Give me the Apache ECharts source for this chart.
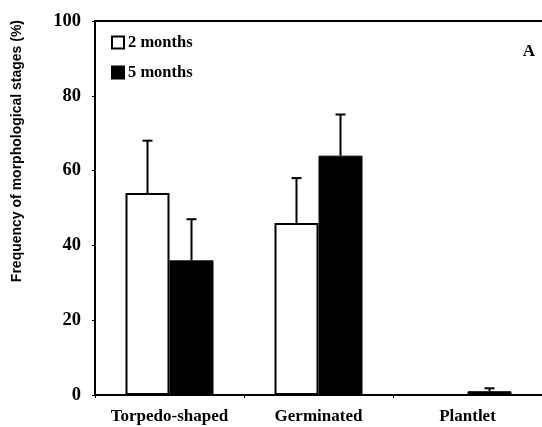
<!DOCTYPE html>
<html>
<head>
<meta charset="utf-8">
<script src="https://cdn.jsdelivr.net/npm/echarts@6/dist/echarts.min.js"></script>
<style>
  html, body { margin: 0; padding: 0; background: #fff; }
  #chart { width: 542px; height: 427px; }
</style>
</head>
<body>
<div id="chart"></div>
<script>
// Morphological stage frequencies after 2 and 5 months
const categories = ['Torpedo-shaped', 'Germinated', 'Plantlet'];
const months2 = [54, 46, 0];
const months2Err = [14, 12, 0];
const months5 = [36, 64, 1];
const months5Err = [11, 11, 0.8];
const yTicks = [0, 20, 40, 60, 80, 100];

const serif = '"Liberation Serif", "Times New Roman", serif';
const sans = '"Liberation Sans", Arial, sans-serif';

// Upward-only error bars with a short cap, drawn over a bar of the given series
function errorSeries(values, errs, offset) {
  return {
    type: 'custom',
    xAxisIndex: 0,
    yAxisIndex: 0,
    z: 5,
    silent: true,
    data: values.map((v, i) => [i, v, v + errs[i]]),
    renderItem: function (params, api) {
      const top = api.coord([api.value(0), api.value(2)]);
      const base = api.coord([api.value(0), api.value(1)]);
      const band = api.size([1, 0])[0];
      const x = top[0] + band * offset;
      if (api.value(2) - api.value(1) <= 0) return null;
      const style = { stroke: '#000', lineWidth: 2 };
      return {
        type: 'group',
        children: [
          { type: 'line', shape: { x1: x, y1: base[1], x2: x, y2: top[1] }, style: style },
          { type: 'line', shape: { x1: x - 5, y1: top[1], x2: x + 5, y2: top[1] }, style: style }
        ]
      };
    }
  };
}

const chart = echarts.init(document.getElementById('chart'), null, { renderer: 'canvas' });
chart.setOption({
  animation: false,
  backgroundColor: '#fff',
  grid: { left: 95, right: 0, top: 21, bottom: 32 },
  legend: {
    orient: 'vertical',
    left: 106,
    top: 29,
    itemGap: 13,
    itemWidth: 12,
    itemHeight: 12,
    icon: 'rect',
    data: ['2 months', '5 months'],
    textStyle: {
      fontFamily: serif, fontWeight: 'bold', fontSize: 16.5, color: '#000',
      padding: [0, 0, 9, -1]
    }
  },
  xAxis: [{
    type: 'category',
    data: categories,
    axisLine: { lineStyle: { color: '#000', width: 2 } },
    axisTick: { show: true, length: 3, lineStyle: { color: '#000', width: 1 } },
    axisLabel: {
      interval: 0,
      color: '#000', fontFamily: serif, fontWeight: 'bold', fontSize: 17, margin: 13
    }
  }, {
    type: 'category',
    position: 'top',
    data: categories,
    axisLine: { lineStyle: { color: '#000', width: 2 } },
    axisTick: { show: false },
    axisLabel: { show: false }
  }],
  yAxis: {
    type: 'value',
    min: yTicks[0],
    max: yTicks[yTicks.length - 1],
    interval: 20,
    splitLine: { show: false },
    axisLine: { show: true, lineStyle: { color: '#000', width: 2 } },
    axisTick: { show: true, length: 3, lineStyle: { color: '#000', width: 1 } },
    axisLabel: {
      color: '#000', fontFamily: serif, fontWeight: 'bold', fontSize: 18.5, margin: 14
    }
  },
  graphic: [{
    type: 'text',
    left: 10,
    top: 20,
    rotation: Math.PI / 2,
    originX: 0,
    originY: 0,
    style: {
      text: 'Frequency of morphological stages (%)',
      font: 'bold 14px ' + sans,
      fill: '#000',
      x: 7,
      y: 153,
      align: 'center',
      verticalAlign: 'middle'
    }
  }, {
    type: 'text',
    right: 7,
    top: 43,
    style: {
      text: 'A',
      font: 'bold 17px ' + serif,
      fill: '#000'
    }
  }],
  series: [{
    name: '2 months',
    type: 'bar',
    data: months2,
    barWidth: 44,
    barGap: '0%',
    itemStyle: { color: '#fff', borderColor: '#000', borderWidth: 2 }
  }, {
    name: '5 months',
    type: 'bar',
    data: months5,
    barWidth: 44,
    barGap: '0%',
    itemStyle: { color: '#000', borderColor: '#000', borderWidth: 1 }
  },
  errorSeries(months2, months2Err, -44 / 149 / 2 * 1),
  errorSeries(months5, months5Err, 44 / 149 / 2 * 1)
  ]
});
</script>
</body>
</html>
